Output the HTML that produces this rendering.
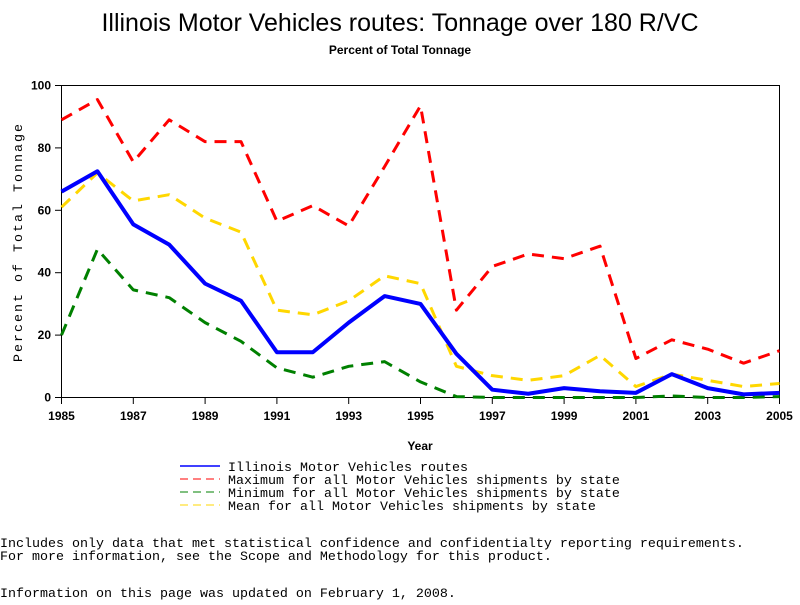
<!DOCTYPE html>
<html><head><meta charset="utf-8"><style>
body{margin:0;background:#fff;width:800px;height:600px;overflow:hidden;font-family:"Liberation Sans",sans-serif}
svg text{font-family:"Liberation Sans",sans-serif}
.mono{font-family:"Liberation Mono",monospace;font-size:13.33px}
</style></head><body>
<svg id="chart" width="800" height="600" xmlns="http://www.w3.org/2000/svg">
<text x="400" y="31" text-anchor="middle" font-size="25">Illinois Motor Vehicles routes: Tonnage over 180 R/VC</text>
<text x="400" y="54" text-anchor="middle" font-size="12" font-weight="bold">Percent of Total Tonnage</text>
<rect x="61.5" y="85.5" width="718" height="312" fill="none" stroke="#000" stroke-width="1"/>
<g id="axes"></g>
<g id="series"></g>
<text transform="translate(22,242) rotate(-90)" text-anchor="middle" class="mono" font-size="12" letter-spacing="2">Percent of Total Tonnage</text>
<text x="420" y="450" text-anchor="middle" font-size="12" font-weight="bold">Year</text>
<g>
<line x1="180" y1="466" x2="220" y2="466" stroke="#0000ff" stroke-width="1.5"/>
<text class="mono" x="228" y="471">Illinois Motor Vehicles routes</text>
<line x1="180" y1="479" x2="220" y2="479" stroke="#ff0000" stroke-dasharray="8,5"/>
<text class="mono" x="228" y="484">Maximum for all Motor Vehicles shipments by state</text>
<line x1="180" y1="492" x2="220" y2="492" stroke="#008000" stroke-dasharray="8,5"/>
<text class="mono" x="228" y="497">Minimum for all Motor Vehicles shipments by state</text>
<line x1="180" y1="505" x2="220" y2="505" stroke="#ffd700" stroke-dasharray="8,5"/>
<text class="mono" x="228" y="510">Mean for all Motor Vehicles shipments by state</text>
</g>
<text class="mono" x="0" y="547">Includes only data that met statistical confidence and confidentialty reporting requirements.</text>
<text class="mono" x="0" y="560">For more information, see the Scope and Methodology for this product.</text>
<text class="mono" x="0" y="597">Information on this page was updated on February 1, 2008.</text>
</svg>
<script>
const years=[1985,1986,1987,1988,1989,1990,1991,1992,1993,1994,1995,1996,1997,1998,1999,2000,2001,2002,2003,2004,2005];
const illinois=[66,72.5,55.5,49,36.5,31,14.5,14.5,24,32.5,30,14,2.5,1.2,3,2,1.5,7.5,3,1,1.5];
const maximum=[89,95.5,75.5,89,82,82,56.5,61.5,55,74,93.5,28,42,46,44.5,48.5,12.5,18.5,15.5,11,15];
const minimum=[20,47.5,34.5,32,24,18,9.5,6.5,10,11.5,5,0.3,0,0,0,0,0,0.5,0,0,0.3];
const mean=[61,72,63,65,57.5,53,28,26.5,31,39,36.5,10,7,5.5,7,13.5,3.5,7.5,5.5,3.5,4.5];
const yTicks=[0,20,40,60,80,100];
const xTicks=[1985,1987,1989,1991,1993,1995,1997,1999,2001,2003,2005];
const NS="http://www.w3.org/2000/svg";
const X=y=>61.5+(y-1985)*(718/20);
const Y=v=>397.5-v*3.12;
const axes=document.getElementById('axes'),ser=document.getElementById('series');
function mk(tag,attrs,parent){const e=document.createElementNS(NS,tag);for(const k in attrs)e.setAttribute(k,attrs[k]);parent.appendChild(e);return e;}
yTicks.forEach(t=>{
 const l=mk('line',{x1:55,x2:61.5,y1:Y(t),y2:Y(t),stroke:'#000'},axes);
 
 
 const tx=mk('text',{x:51,y:Y(t)+4,'text-anchor':'end','font-size':12,'font-weight':'bold'},axes);
 tx.textContent=t;
 
 
});
xTicks.forEach(t=>{
 const l=mk('line',{x1:X(t),x2:X(t),y1:397.5,y2:404,stroke:'#000'},axes);
 
 
 const tx=mk('text',{x:X(t),y:420,'text-anchor':'middle','font-size':12,'font-weight':'bold'},axes);
 tx.textContent=t;
 
 
});
function line(vals,color,w,dash,name){
 const p=mk('polyline',{points:vals.map((v,i)=>X(years[i])+','+Y(v)).join(' '),fill:'none',stroke:color,'stroke-width':w,'stroke-linejoin':'round'},ser);
 if(dash)p.setAttribute('stroke-dasharray',dash);
 
 
}
line(maximum,'#ff0000',3,'12,8','maximum-line');
line(mean,'#ffd700',3,'12,8','mean-line');
line(minimum,'#008000',3,'12,8','minimum-line');
line(illinois,'#0000ff',4,null,'illinois-line');
</script>
</body></html>
